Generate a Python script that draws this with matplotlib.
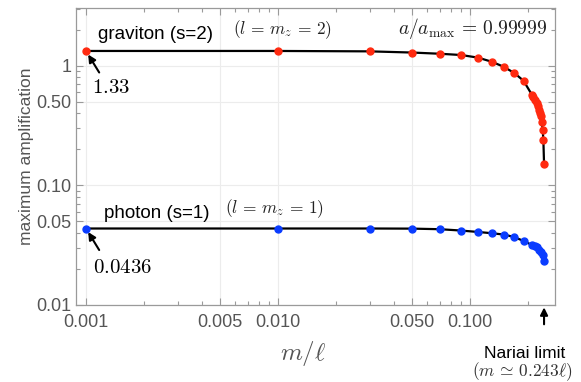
import matplotlib
matplotlib.use("Agg")
import matplotlib.pyplot as plt
import numpy as np

plt.rcParams['font.family'] = ['Liberation Sans', 'DejaVu Sans']
plt.rcParams['mathtext.fontset'] = 'cm'

# data
m_grav = [0.001, 0.01, 0.03, 0.05, 0.07, 0.09, 0.11, 0.13, 0.15, 0.17, 0.19,
          0.21, 0.214, 0.218, 0.222, 0.226, 0.229, 0.232, 0.234, 0.236, 0.239, 0.241, 0.243]
amp_grav = [1.33, 1.33, 1.32, 1.29, 1.26, 1.23, 1.17, 1.08, 0.98, 0.87, 0.75,
            0.573, 0.548, 0.521, 0.489, 0.458, 0.430, 0.403, 0.378, 0.337, 0.293, 0.240, 0.152]

m_phot = [0.001, 0.01, 0.03, 0.05, 0.07, 0.09, 0.11, 0.13, 0.15, 0.17, 0.19,
          0.21, 0.218, 0.224, 0.230, 0.235, 0.239, 0.243]
amp_phot = [0.0436, 0.0436, 0.0436, 0.0435, 0.0430, 0.0419, 0.0408, 0.0398, 0.0388, 0.0370, 0.0343,
            0.0318, 0.0312, 0.0303, 0.0289, 0.0275, 0.0261, 0.0234]

nariai = 0.243

xticks = [0.001, 0.005, 0.01, 0.05, 0.1]
xticklabels = ['0.001', '0.005', '0.010', '0.050', '0.100']
yticks = [0.01, 0.05, 0.1, 0.5, 1]
yticklabels = ['0.01', '0.05', '0.10', '0.50', '1']

gray = '#9a9a9a'
txtgray = '#555555'
red = '#ff2a10'
blue = '#0a3cff'

fig = plt.figure(figsize=(5.81, 3.82), dpi=100)
ax = fig.add_axes([0.1308, 0.2016, 0.8244, 0.7774])

ax.plot(m_grav, amp_grav, color='black', lw=1.6, zorder=2)
ax.plot(m_grav, amp_grav, 'o', color=red, ms=5, zorder=3)
ax.plot(m_phot, amp_phot, color='black', lw=1.6, zorder=2)
ax.plot(m_phot, amp_phot, 'o', color=blue, ms=5, zorder=3)

ax.set_xscale('log')
ax.set_yscale('log')
ax.set_xlim(0.000887, 0.277)
ax.set_ylim(0.01, 3.04)

ax.set_xticks(xticks)
ax.set_xticklabels(xticklabels)
ax.set_yticks(yticks)
ax.set_yticklabels(yticklabels)
xminor = [a * d for d in [0.001, 0.01, 0.1] for a in [2, 3, 4, 6, 7, 8, 9]]
ax.set_xticks([v for v in xminor if v < 0.277], minor=True)
yminor = [a * d for d in [0.01, 0.1, 1] for a in [2, 3, 4, 6, 7, 8, 9]]
ax.set_yticks([v for v in yminor if v < 3.04], minor=True)
ax.xaxis.set_minor_formatter(plt.NullFormatter())
ax.yaxis.set_minor_formatter(plt.NullFormatter())

ax.tick_params(which='both', direction='in', top=True, right=True, color=gray,
               labelsize=13, labelcolor=txtgray, width=0.8)
ax.tick_params(which='major', length=5)
ax.tick_params(axis='x', which='major', pad=6.5)
ax.tick_params(axis='y', which='major', pad=3)
ax.tick_params(which='minor', length=3)
for s in ax.spines.values():
    s.set_color(gray)
    s.set_linewidth(0.9)
ax.grid(True, which='major', color='#ececec', lw=0.8, zorder=0)

ax.set_xlabel(r'$m/\ell$', fontsize=18, color=txtgray)
ax.xaxis.set_label_coords(0.474, -0.115)
ax.set_ylabel('maximum amplification', fontsize=12.5, color=txtgray, labelpad=2)

# labels on the curves
ax.annotate('graviton (s=2)', xy=(m_grav[0], amp_grav[0]), xytext=(9, 6),
            textcoords='offset points', fontsize=13.5, va='bottom')
ax.annotate(r'$(l\,=\,m_z\,=\,2)$', xy=(m_grav[0], amp_grav[0]), xytext=(106, 7),
            textcoords='offset points', fontsize=12.5, va='bottom', color='#222222')
ax.annotate('photon (s=1)', xy=(m_phot[0], amp_phot[0]), xytext=(13, 5),
            textcoords='offset points', fontsize=13.5, va='bottom')
ax.annotate(r'$(l\,=\,m_z\,=\,1)$', xy=(m_phot[0], amp_phot[0]), xytext=(100, 6),
            textcoords='offset points', fontsize=12.5, va='bottom', color='#222222')
ax.text(0.985, 0.93, r'$a/a_{\mathrm{max}}\,=\,0.99999$', transform=ax.transAxes,
        ha='right', va='center', fontsize=14, color='#222222')

arrow = dict(arrowstyle='-|>', color='black', lw=1.5, mutation_scale=11,
             shrinkA=0, shrinkB=3)
ax.annotate('', xy=(m_grav[0], amp_grav[0]), xytext=(9.5, -15.5),
            textcoords='offset points', arrowprops=arrow)
ax.annotate(r'$%.2f$' % amp_grav[0], xy=(m_grav[0], amp_grav[0]), xytext=(4.5, -26.5),
            textcoords='offset points', fontsize=15, va='center')
ax.annotate('', xy=(m_phot[0], amp_phot[0]), xytext=(9.5, -15.5),
            textcoords='offset points', arrowprops=arrow)
ax.annotate(r'$%.4f$' % amp_phot[0], xy=(m_phot[0], amp_phot[0]), xytext=(5, -28),
            textcoords='offset points', fontsize=15, va='center')

# Nariai limit marker
xt = ax.get_xaxis_transform()
ax.annotate('', xy=(nariai, -0.008), xycoords=xt, xytext=(nariai, -0.065),
            textcoords=xt, arrowprops=dict(arrowstyle='-|>', color='black', lw=1.5,
                                           mutation_scale=11, shrinkA=0, shrinkB=0),
            annotation_clip=False)
ax.text(0.937, -0.162, 'Nariai limit', transform=ax.transAxes, ha='center',
        va='center', fontsize=12.5)
ax.text(0.932, -0.225, r'$(m\,\simeq\,0.243\ell)$', transform=ax.transAxes, ha='center',
        va='center', fontsize=12.5, color='#333333')

fig.savefig('out.png', dpi=100)
